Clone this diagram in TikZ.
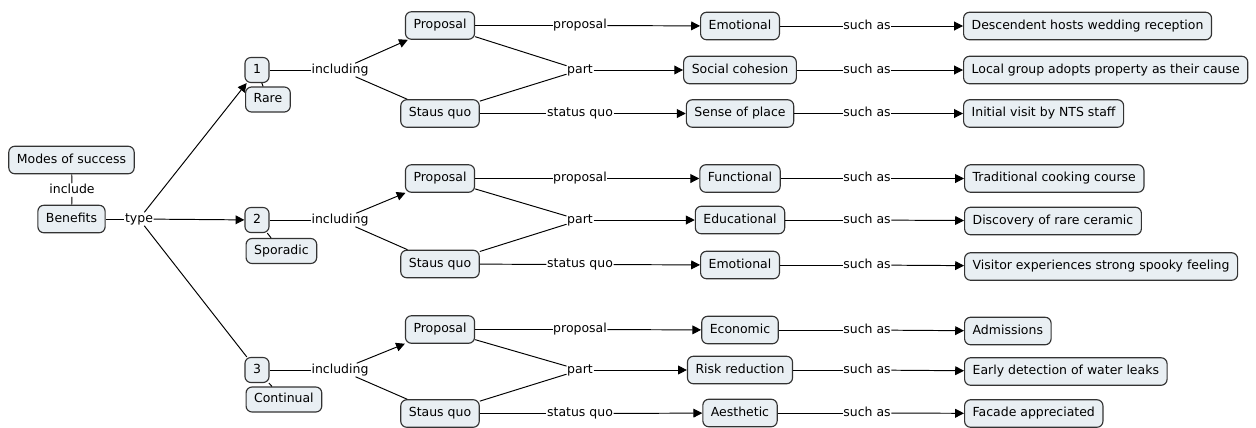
\documentclass[tikz,border=0pt]{standalone}
\usepackage{fontspec}
\setmainfont{DejaVu Sans}
\usetikzlibrary{arrows.meta}
\definecolor{boxfill}{HTML}{E9EFF3}
\definecolor{boxline}{HTML}{333333}

\begin{document}
\begin{tikzpicture}[x=0.02cm, y=-0.02cm,
    font=\fontsize{7.1}{8.5}\selectfont,
    concept/.style={draw=boxline, fill=boxfill, rounded corners=3.4pt, line width=0.65pt,
        inner xsep=4.6pt, inner ysep=0pt, minimum height=0.55cm, text height=5.3pt, text depth=1.6pt},
    small/.style={concept, minimum height=0.5cm},
    linkword/.style={inner sep=0.2pt, text height=5.3pt, text depth=1.6pt},
    link/.style={line width=0.55pt},
    arrow/.style={link, -{Triangle[length=5pt, width=5pt]}}]
    \useasboundingbox (0,0) rectangle (1256,427);

    % Root
    \node[concept] (modes) at (71.5,160) {Modes of success};
    \node[linkword] (include) at (72,190) {include};
    \node[concept] (benefits) at (71.5,219) {Benefits};
    \node[linkword] (type) at (139,219) {type};
    \draw[link] (modes) -- (include);
    \draw[link] (include) -- (benefits);
    \draw[link] (benefits) -- (type);

    % Types (numbers)
    \node[small] (one) at (257,70) {1};
    \node[small, anchor=west] (rare) at (245,99.5) {Rare};
    \node[small] (two) at (257,220) {2};
    \node[small, anchor=west] (sporadic) at (245.5,251) {Sporadic};
    \node[small] (three) at (257,370) {3};
    \node[small, anchor=west] (continual) at (245.5,399.5) {Continual};
    \draw[arrow] (type) -- (one);
    \draw[arrow] (type) -- (two);
    \draw[link] (type) -- (three);
    \draw[link] (one) -- (rare);
    \draw[link] (two) -- (sporadic);
    \draw[link] (three) -- (continual);

    % Rare
    \node[linkword] (inclA) at (340,70) {including};
    \node[concept] (propA) at (440,25.5) {Proposal};
    \node[concept] (stausA) at (440,113.5) {Staus quo};
    \node[linkword] (lpropA) at (580,25.5) {proposal};
    \node[linkword] (lpartA) at (580,70) {part};
    \node[linkword] (lstatA) at (580,113.5) {status quo};
    \node[concept] (emotA) at (740,26) {Emotional};
    \node[concept] (socialA) at (740,70) {Social cohesion};
    \node[concept] (senseA) at (740,113.5) {Sense of place};
    \node[linkword] (suchA1) at (867,26) {such as};
    \node[linkword] (suchA2) at (867,70) {such as};
    \node[linkword] (suchA3) at (867,113.5) {such as};
    \node[concept, anchor=west] (weddingA) at (963,26) {Descendent hosts wedding reception};
    \node[concept, anchor=west] (groupA) at (963,70) {Local group adopts property as their cause};
    \node[concept, anchor=west] (visitA) at (963,113.5) {Initial visit by NTS staff};
    \draw[link] (one) -- (inclA);
    \draw[arrow] (inclA) -- (propA);
    \draw[link] (inclA) -- (stausA);
    \draw[link] (propA) -- (lpropA);
    \draw[link] (propA) -- (lpartA);
    \draw[link] (stausA) -- (lpartA);
    \draw[link] (stausA) -- (lstatA);
    \draw[arrow] (lpropA) -- (emotA);
    \draw[arrow] (lpartA) -- (socialA);
    \draw[arrow] (lstatA) -- (senseA);
    \draw[link] (emotA) -- (suchA1);
    \draw[link] (socialA) -- (suchA2);
    \draw[link] (senseA) -- (suchA3);
    \draw[arrow] (suchA1) -- (weddingA);
    \draw[arrow] (suchA2) -- (groupA);
    \draw[arrow] (suchA3) -- (visitA);

    % Sporadic
    \node[linkword] (inclB) at (340,220) {including};
    \node[concept] (propB) at (440,178.5) {Proposal};
    \node[concept] (stausB) at (440,264) {Staus quo};
    \node[linkword] (lpropB) at (580,178.5) {proposal};
    \node[linkword] (lpartB) at (580,220) {part};
    \node[linkword] (lstatB) at (580,264.5) {status quo};
    \node[concept] (functB) at (740,178.5) {Functional};
    \node[concept] (educB) at (740,220) {Educational};
    \node[concept] (emotB) at (740,265) {Emotional};
    \node[linkword] (suchB1) at (867,178.5) {such as};
    \node[linkword] (suchB2) at (867,220) {such as};
    \node[linkword] (suchB3) at (867,265) {such as};
    \node[concept, anchor=west] (cookB) at (964,178.5) {Traditional cooking course};
    \node[concept, anchor=west] (ceramicB) at (964,221) {Discovery of rare ceramic};
    \node[concept, anchor=west] (spookyB) at (964,266.5) {Visitor experiences strong spooky feeling};
    \draw[link] (two) -- (inclB);
    \draw[arrow] (inclB) -- (propB);
    \draw[link] (inclB) -- (stausB);
    \draw[link] (propB) -- (lpropB);
    \draw[link] (propB) -- (lpartB);
    \draw[link] (stausB) -- (lpartB);
    \draw[link] (stausB) -- (lstatB);
    \draw[arrow] (lpropB) -- (functB);
    \draw[arrow] (lpartB) -- (educB);
    \draw[arrow] (lstatB) -- (emotB);
    \draw[link] (functB) -- (suchB1);
    \draw[link] (educB) -- (suchB2);
    \draw[link] (emotB) -- (suchB3);
    \draw[arrow] (suchB1) -- (cookB);
    \draw[arrow] (suchB2) -- (ceramicB);
    \draw[arrow] (suchB3) -- (spookyB);

    % Continual
    \node[linkword] (inclC) at (340,370) {including};
    \node[concept] (propC) at (440,329.5) {Proposal};
    \node[concept] (stausC) at (440,413.5) {Staus quo};
    \node[linkword] (lpropC) at (580,329.5) {proposal};
    \node[linkword] (lpartC) at (580,370) {part};
    \node[linkword] (lstatC) at (580,413.5) {status quo};
    \node[concept] (econC) at (740,330) {Economic};
    \node[concept] (riskC) at (740,370) {Risk reduction};
    \node[concept] (aesthC) at (740,413) {Aesthetic};
    \node[linkword] (suchC1) at (867,330) {such as};
    \node[linkword] (suchC2) at (867,370) {such as};
    \node[linkword] (suchC3) at (867,413) {such as};
    \node[concept, anchor=west] (admC) at (964,331) {Admissions};
    \node[concept, anchor=west] (leaksC) at (964,371.5) {Early detection of water leaks};
    \node[concept, anchor=west] (facadeC) at (964,413.5) {Facade appreciated};
    \draw[link] (three) -- (inclC);
    \draw[arrow] (inclC) -- (propC);
    \draw[link] (inclC) -- (stausC);
    \draw[link] (propC) -- (lpropC);
    \draw[link] (propC) -- (lpartC);
    \draw[link] (stausC) -- (lpartC);
    \draw[link] (stausC) -- (lstatC);
    \draw[arrow] (lpropC) -- (econC);
    \draw[arrow] (lpartC) -- (riskC);
    \draw[arrow] (lstatC) -- (aesthC);
    \draw[link] (econC) -- (suchC1);
    \draw[link] (riskC) -- (suchC2);
    \draw[link] (aesthC) -- (suchC3);
    \draw[arrow] (suchC1) -- (admC);
    \draw[arrow] (suchC2) -- (leaksC);
    \draw[arrow] (suchC3) -- (facadeC);
\end{tikzpicture}
\end{document}
